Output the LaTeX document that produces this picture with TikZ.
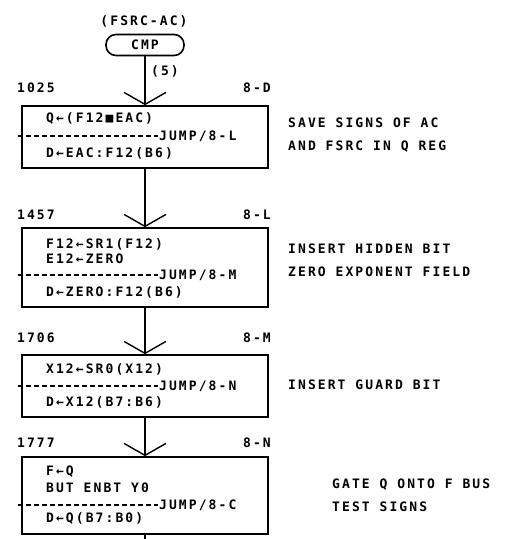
\documentclass[tikz,border=0pt]{standalone}
\usepackage{fontspec}
\usetikzlibrary{arrows.meta}
\newfontfamily\plotfont[LetterSpace=16]{DejaVu Sans Mono}
\tikzset{
  txt/.style={font=\plotfont\bfseries\fontsize{13}{15}\selectfont, inner sep=0pt, anchor=west},
  rtxt/.style={txt, anchor=east},
  ctxt/.style={txt, anchor=center},
  fbox/.style={draw, line width=1.6pt, minimum width=246pt, inner sep=0pt},
  cmpbox/.style={draw, line width=1.6pt, rounded corners=10pt, minimum width=78pt, minimum height=21pt, inner sep=0pt, font=\plotfont\bfseries\fontsize{13}{15}\selectfont},
  flow/.style={line width=1.4pt, -{Straight Barb[length=12pt,width=42pt,line width=1.4pt]}},
  plain/.style={line width=1.4pt},
  dashline/.style={line width=1.3pt, dash pattern=on 5pt off 3pt}
}
\begin{document}
\begin{tikzpicture}[x=1pt,y=-1pt]
\useasboundingbox (0,0) rectangle (507,539);
% start
\node[ctxt] (title) at (144,21) {(FSRC-AC)};
\node[cmpbox] (cmp) at (145,45) {CMP};
\node[txt] (n5) at (151,71) {(5)};
% boxes
\node[fbox, minimum height=62pt] (b1) at (145,137) {};
\node[fbox, minimum height=79pt] (b2) at (145,267.5) {};
\node[fbox, minimum height=62pt] (b3) at (145,386) {};
\node[fbox, minimum height=77pt] (b4) at (145,495.5) {};
\coordinate (tail) at (145,539);
% addresses
\node[txt] (a1) at (17,88) {1025};
\node[rtxt] (p1) at (271,88) {8-D};
\node[txt] (a2) at (17,215) {1457};
\node[rtxt] (p2) at (271,215) {8-L};
\node[txt] (a3) at (17,338) {1706};
\node[rtxt] (p3) at (271,338) {8-M};
\node[txt] (a4) at (17,443) {1777};
\node[rtxt] (p4) at (271,443) {8-N};
% box 1
\node[txt] (t11) at (46,118) {Q←(F12■EAC)};
\node[txt] (j1) at (159,136) {JUMP/8-L};
\node[txt] (t12) at (46,153) {D←EAC:F12(B6)};
% box 2
\node[txt] (t21) at (46,244) {F12←SR1(F12)};
\node[txt] (t22) at (46,259) {E12←ZERO};
\node[txt] (j2) at (159,275) {JUMP/8-M};
\node[txt] (t23) at (46,292) {D←ZERO:F12(B6)};
% box 3
\node[txt] (t31) at (46,369) {X12←SR0(X12)};
\node[txt] (j3) at (159,386) {JUMP/8-N};
\node[txt] (t32) at (46,402) {D←X12(B7:B6)};
% box 4
\node[txt] (t41) at (46,472) {F←Q};
\node[txt] (t42) at (46,488) {BUT ENBT Y0};
\node[txt] (j4) at (159,505) {JUMP/8-C};
\node[txt] (t43) at (46,518) {D←Q(B7:B0)};
% comments
\node[txt] (c11) at (288,123) {SAVE SIGNS OF AC};
\node[txt] (c12) at (288,147) {AND FSRC IN Q REG};
\node[txt] (c21) at (288,249) {INSERT HIDDEN BIT};
\node[txt] (c22) at (288,272) {ZERO EXPONENT FIELD};
\node[txt] (c31) at (288,385) {INSERT GUARD BIT};
\node[txt] (c41) at (332,485) {GATE Q ONTO F BUS};
\node[txt] (c42) at (332,507) {TEST SIGNS};
% dashed separators
\draw[dashline] ([xshift=-3pt]b1.west |- j1.west) -- ([xshift=-1pt]j1.west);
\draw[dashline] ([xshift=-3pt]b2.west |- j2.west) -- ([xshift=-1pt]j2.west);
\draw[dashline] ([xshift=-3pt]b3.west |- j3.west) -- ([xshift=-1pt]j3.west);
\draw[dashline] ([xshift=-3pt]b4.west |- j4.west) -- ([xshift=-1pt]j4.west);
% connectors
\draw[flow] (cmp.south) -- (b1.north);
\draw[flow] (b1.south) -- (b2.north);
\draw[flow] (b2.south) -- (b3.north);
\draw[flow] (b3.south) -- (b4.north);
\draw[plain] (b4.south) -- (tail);
\end{tikzpicture}
\end{document}
